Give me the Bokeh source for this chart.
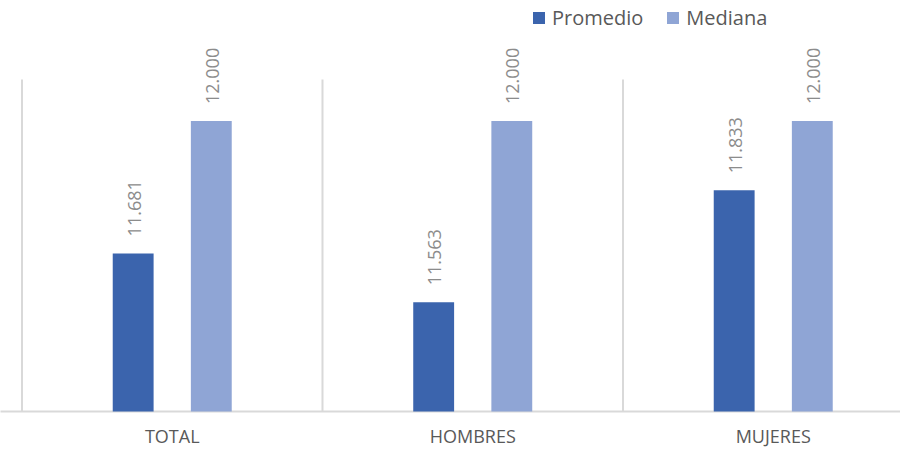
from bokeh.plotting import figure
from bokeh.models import Range1d, Legend, LegendItem, ColumnDataSource
from bokeh.core.properties import value
from bokeh.embed import file_html
from bokeh.resources import INLINE

categories = ["TOTAL", "HOMBRES", "MUJERES"]
promedio = [11.681, 11.563, 11.833]
mediana = [12.000, 12.000, 12.000]
series_names = ["Promedio", "Mediana"]

C_PROM = "#3B64AD"
C_MED = "#8FA5D5"
GRID = "#D9D9D9"
Y_MIN, Y_GRID_TOP = 11.3, 12.1

n = len(categories)
OFF, BW = 0.13, 0.136

p = figure(width=900, height=449, output_backend="svg", toolbar_location=None,
           x_range=Range1d(-0.0715, 2.9235), y_range=Range1d(11.2084, 12.2904),
           min_border_left=0, min_border_right=0, min_border_top=0, min_border_bottom=0)
p.outline_line_color = None
p.xgrid.visible = False
p.ygrid.visible = False
p.xaxis.visible = False
p.yaxis.visible = False
p.background_fill_color = "white"
p.border_fill_color = "white"

# category separators and baseline
sep_x = list(range(n + 1))
p.segment(x0=sep_x, y0=[Y_MIN] * len(sep_x), x1=sep_x, y1=[Y_GRID_TOP] * len(sep_x),
          line_color=GRID, line_width=2)
p.segment(x0=[-1], y0=[Y_MIN], x1=[n + 1], y1=[Y_MIN], line_color=GRID, line_width=2)

xc = [i + 0.5 for i in range(n)]
src_p = ColumnDataSource(dict(x=[c - OFF for c in xc], top=promedio,
                              lab=["{:.3f}".format(v) for v in promedio]))
src_m = ColumnDataSource(dict(x=[c + OFF for c in xc], top=mediana,
                              lab=["{:.3f}".format(v) for v in mediana]))

r1 = p.vbar(x="x", top="top", bottom=Y_MIN, width=BW, source=src_p,
            fill_color=C_PROM, line_color=None)
r2 = p.vbar(x="x", top="top", bottom=Y_MIN, width=BW, source=src_m,
            fill_color=C_MED, line_color=None)

for src in (src_p, src_m):
    p.text(x="x", y="top", text="lab", source=src, angle=1.5708,
           text_align="left", text_baseline="middle", y_offset=-17, x_offset=1,
           text_font=value("Open Sans"), text_font_size="18px", text_color="#8C8C8C")

# category labels under the baseline
src_c = ColumnDataSource(dict(x=xc, y=[Y_MIN] * n, lab=categories))
p.text(x="x", y="y", text="lab", source=src_c, text_align="center",
       text_baseline="middle", y_offset=25,
       text_font=value("Open Sans"), text_font_size="18px", text_color="#595959")

legend = Legend(items=[LegendItem(label=series_names[0], renderers=[r1]),
                       LegendItem(label=series_names[1], renderers=[r2])],
                orientation="horizontal", location=(531, 418),
                glyph_width=15, glyph_height=15, label_standoff=6, spacing=22,
                padding=0, margin=0, border_line_alpha=0, background_fill_alpha=0,
                label_text_font="Open Sans", label_text_font_size="20px",
                label_text_color="#595959")
p.add_layout(legend, "center")

open("out.html", "w").write(file_html(p, INLINE))
